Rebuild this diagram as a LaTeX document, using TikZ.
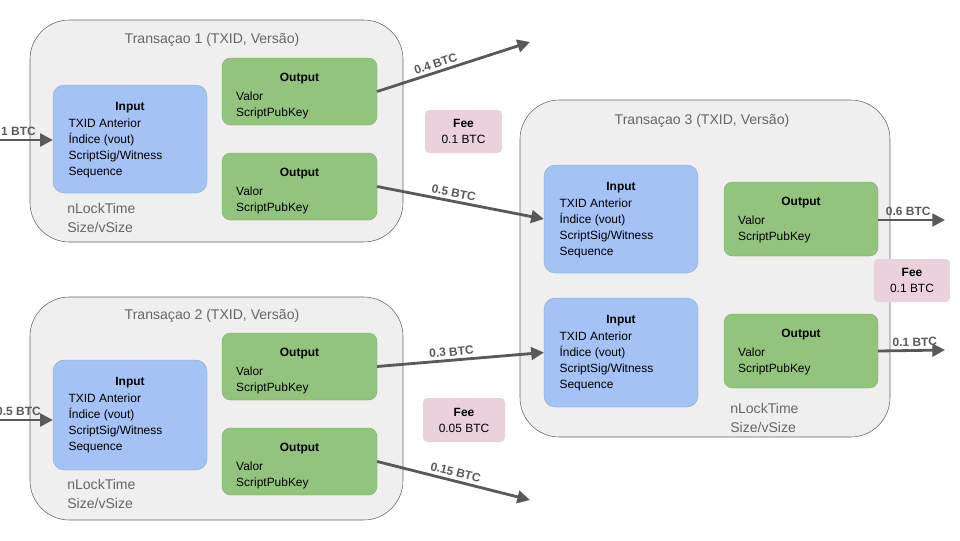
\documentclass[tikz,border=0pt]{standalone}
\usepackage{fontspec}
\setmainfont{Liberation Sans}
\usetikzlibrary{positioning,fit,arrows.meta}
\definecolor{txfill}{HTML}{EFEFEF}
\definecolor{txline}{HTML}{666666}
\definecolor{infill}{HTML}{A4C2F4}
\definecolor{outfill}{HTML}{93C47D}
\definecolor{feefill}{HTML}{EAD1DC}
\definecolor{arrowcol}{HTML}{595959}
\definecolor{greytext}{HTML}{666666}
\tikzset{
  tx/.style={draw=txline, fill=txfill, rounded corners=28pt, inner sep=0pt},
  inbox/.style={draw=infill!80!black, line width=0.2pt, fill=infill, rounded corners=8pt, inner sep=0pt},
  outbox/.style={fill=outfill, draw=outfill!80!black, line width=0.2pt, rounded corners=6pt, inner sep=0pt},
  feebox/.style={fill=feefill, rounded corners=3pt, inner sep=0pt},
  title/.style={text=greytext, font=\fontsize{10}{12}\selectfont},
  body/.style={align=left, anchor=north west, inner sep=0pt, font=\fontsize{8.5}{11.3}\selectfont},
  head/.style={anchor=north, inner sep=0pt, font=\bfseries\fontsize{8.5}{10}\selectfont},
  lock/.style={align=left, anchor=north west, inner sep=0pt, text=greytext, font=\fontsize{10}{13.5}\selectfont},
  flow/.style={draw=arrowcol, line width=2pt, -{Triangle[length=9pt,width=9pt]}},
  amt/.style={text=arrowcol, font=\bfseries\fontsize{8.5}{10}\selectfont, sloped, above, inner sep=2pt}
}
\begin{document}
\begin{tikzpicture}[x=0.025cm, y=-0.025cm]
  \useasboundingbox (0,0) rectangle (960,540);

  % transaction frames
  \node[tx, fit={(30,20)(403,242)}] (tx1) {};
  \node[tx, fit={(30,297)(403,520)}] (tx2) {};
  \node[tx, fit={(520,100)(890,437)}] (tx3) {};
  \node[title] (t1) at (212,40) {Transaçao 1 (TXID, Versão)};
  \node[title] (t2) at (212,316) {Transaçao 2 (TXID, Versão)};
  \node[title] (t3) at (702,121) {Transaçao 3 (TXID, Versão)};

  % inputs
  \node[inbox, fit={(53,85)(207,193)}] (in1) {};
  \node[inbox, fit={(53,360)(207,470)}] (in2) {};
  \node[inbox, fit={(544,165)(698,273)}] (in3a) {};
  \node[inbox, fit={(544,298)(698,407)}] (in3b) {};
  \foreach \n in {in1,in2,in3a,in3b} {
    \node[head] (\n h) at ([yshift=-12]\n.north) {Input};
    \node[body] (\n b) at ([xshift=11, yshift=-24]\n.north west)
      {TXID Anterior\\Índice (vout)\\ScriptSig/Witness\\Sequence};
  }

  % outputs
  \node[outbox, fit={(222,58)(377,125)}] (o1a) {};
  \node[outbox, fit={(222,153)(377,220)}] (o1b) {};
  \node[outbox, fit={(222,333)(377,400)}] (o2a) {};
  \node[outbox, fit={(222,428)(377,495)}] (o2b) {};
  \node[outbox, fit={(724,182)(878,256)}] (o3a) {};
  \node[outbox, fit={(724,314)(878,388)}] (o3b) {};
  \foreach \n in {o1a,o1b,o2a,o2b,o3a,o3b} {
    \node[head] (\n h) at ([yshift=-11]\n.north) {Output};
    \node[body] (\n b) at ([xshift=10, yshift=-24]\n.north west) {Valor\\ScriptPubKey};
  }

  % lock time
  \node[lock] (l1) at (67,203) {nLockTime\\Size/vSize};
  \node[lock] (l2) at (67,479) {nLockTime\\Size/vSize};
  \node[lock] (l3) at (730,403) {nLockTime\\Size/vSize};

  % fees
  \node[feebox, fit={(425,110)(502,153)}] (f1) {};
  \node[feebox, fit={(423,398)(505,442)}] (f2) {};
  \node[feebox, fit={(874,259)(950,302)}] (f3) {};
  \foreach \n/\v in {f1/0.1 BTC,f2/0.05 BTC,f3/0.1 BTC} {
    \node[align=center, inner sep=0pt, font=\fontsize{8.5}{11.3}\selectfont] at (\n.center)
      {\textbf{Fee}\\\v};
  }

  % flows
  \coordinate (s1) at (0,140);
  \coordinate (s2) at (0,420);
  \coordinate (e1) at (530,42);
  \coordinate (e2) at (530,500);
  \coordinate (e3) at (945,220);
  \coordinate (e4) at (945,350);
  \draw[flow] (s1) -- node[amt, pos=0.35] {1 BTC} (in1.west |- s1);
  \draw[flow] (s2) -- node[amt, pos=0.35] {0.5 BTC} (in2.west |- s2);
  \draw[flow] (o1a.east) -- node[amt, pos=0.4] {0.4 BTC} (e1);
  \draw[flow] (o1b.east) -- node[amt, pos=0.45] {0.5 BTC} (in3a.west);
  \draw[flow] (o2a.east) -- node[amt, pos=0.45] {0.3 BTC} (in3b.west);
  \draw[flow] (o2b.east) -- node[amt, pos=0.5] {0.15 BTC} (e2);
  \draw[flow] (o3a.east |- e3) -- node[amt, pos=0.45] {0.6 BTC} (e3);
  \draw[flow] (o3b.east) -- node[amt, pos=0.55] {0.1 BTC} (e4);
\end{tikzpicture}
\end{document}
